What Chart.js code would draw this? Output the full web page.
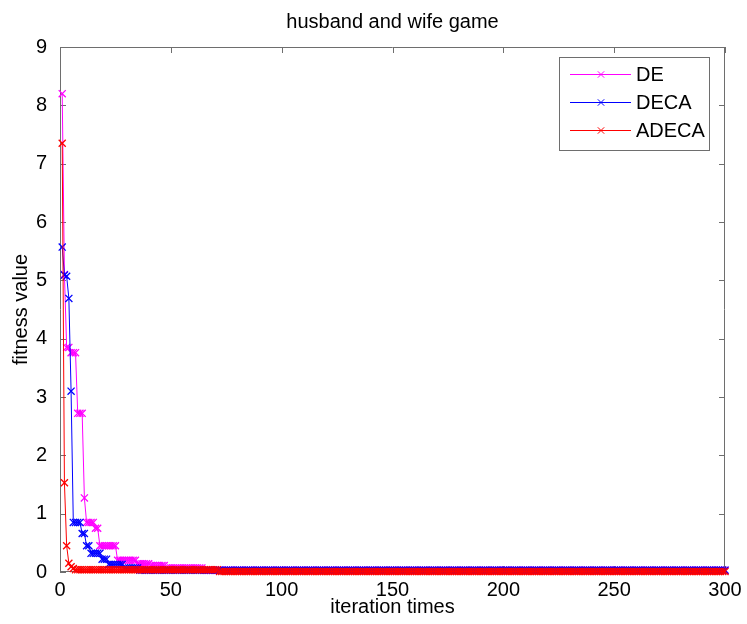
<!DOCTYPE html>
<html>
<head>
<meta charset="utf-8">
<title>husband and wife game</title>
<script src="https://cdn.jsdelivr.net/npm/chart.js@4.4.0/dist/chart.umd.min.js"></script>
<style>
    html, body { margin: 0; padding: 0; background: #fff; }
    #wrap { width: 747px; height: 624px; }
</style>
</head>
<body>
<div id="wrap"><canvas id="fitnessChart" width="747" height="624"></canvas></div>
<script>
// Tick labels for both axes
const xTicks = [0, 50, 100, 150, 200, 250, 300];
const yTicks = [0, 1, 2, 3, 4, 5, 6, 7, 8, 9];

const seriesNames = ['DE', 'DECA', 'ADECA'];
const seriesColors = ['#ff00ff', '#0000ff', '#ff0000'];

// Fitness value per iteration as [value, iterations held]
const deRuns = [
    [8.2, 1], [5.1, 1], [3.85, 2], [3.76, 3], [2.72, 3], [1.27, 1], [0.85, 4],
    [0.75, 2], [0.45, 8], [0.2, 9], [0.14, 6], [0.11, 7], [0.07, 17], [0.03, 236]
];
const decaRuns = [
    [5.57, 1], [5.09, 1], [5.07, 1], [4.69, 1], [3.1, 1], [0.85, 4], [0.66, 2],
    [0.45, 2], [0.32, 5], [0.22, 3], [0.13, 7], [0.07, 7], [0.032, 265]
];
const adecaRuns = [
    [7.35, 1], [1.53, 1], [0.45, 1], [0.15, 1], [0.09, 1], [0.06, 1],
    [0.04, 65], [0.01, 229]
];

const FONT = '"Liberation Sans", Arial, Helvetica, sans-serif';

// turn the runs into one point per iteration (iterations start at 1)
function expandRuns(runs) {
    const pts = [];
    runs.forEach(([value, count]) => {
        for (let i = 0; i < count; i++) {
            pts.push({ x: pts.length + 1, y: value });
        }
    });
    return pts;
}

// Box around the plot with inward ticks on all four sides
const axisBox = {
    id: 'axisBox',
    beforeDatasetsDraw(chart) {
        const { ctx, chartArea: a, scales: { x, y } } = chart;
        const len = 6;
        ctx.save();
        ctx.strokeStyle = '#6e6e6e';
        ctx.lineWidth = 1;
        ctx.beginPath();
        ctx.rect(a.left + 0.5, a.top + 0.5, a.width - 1, a.height - 1);
        xTicks.forEach(v => {
            const px = Math.round(x.getPixelForValue(v)) + 0.5;
            ctx.moveTo(px, a.bottom);
            ctx.lineTo(px, a.bottom - len);
            ctx.moveTo(px, a.top);
            ctx.lineTo(px, a.top + len);
        });
        yTicks.forEach(v => {
            const py = Math.round(y.getPixelForValue(v)) + 0.5;
            ctx.moveTo(a.left, py);
            ctx.lineTo(a.left + len, py);
            ctx.moveTo(a.right, py);
            ctx.lineTo(a.right - len, py);
        });
        ctx.stroke();
        ctx.restore();
    }
};

// Legend box in the upper right corner of the plot
const boxLegend = {
    id: 'boxLegend',
    afterDraw(chart) {
        const { ctx, chartArea: a } = chart;
        const w = 150, h = 93;
        const left = a.right - 16 - w;
        const top = a.top + 10;
        ctx.save();
        ctx.fillStyle = '#fff';
        ctx.fillRect(left, top, w, h);
        ctx.strokeStyle = '#6e6e6e';
        ctx.lineWidth = 1;
        ctx.strokeRect(left + 0.5, top + 0.5, w, h);
        ctx.font = '20px ' + FONT;
        ctx.textBaseline = 'middle';
        chart.data.datasets.forEach((ds, i) => {
            const yy = Math.round(top + 17 + i * 28.2) + 0.5;
            ctx.strokeStyle = ds.borderColor;
            ctx.beginPath();
            ctx.moveTo(left + 11, yy);
            ctx.lineTo(left + 72, yy);
            // the x marker
            const cx = left + 42, r = 3.2;
            ctx.moveTo(cx - r, yy - r);
            ctx.lineTo(cx + r, yy + r);
            ctx.moveTo(cx - r, yy + r);
            ctx.lineTo(cx + r, yy - r);
            ctx.stroke();
            ctx.fillStyle = '#000';
            ctx.fillText(ds.label, left + 77, yy + 1);
        });
        ctx.restore();
    }
};

const allRuns = [deRuns, decaRuns, adecaRuns];

new Chart(document.getElementById('fitnessChart'), {
    type: 'line',
    data: {
        datasets: allRuns.map((runs, i) => ({
            label: seriesNames[i],
            data: expandRuns(runs),
            borderColor: seriesColors[i],
            backgroundColor: seriesColors[i],
            borderWidth: 1,
            pointStyle: 'crossRot',
            pointRadius: 5,
            pointBorderWidth: 1.3,
            pointBorderColor: seriesColors[i],
            tension: 0,
            clip: false,
            order: 3 - i
        }))
    },
    options: {
        responsive: false,
        animation: false,
        events: [],
        layout: { padding: { left: 0, right: 22, top: 0, bottom: 0 } },
        plugins: {
            legend: { display: false },
            tooltip: { enabled: false },
            title: {
                display: true,
                fullSize: false,
                text: 'husband and wife game',
                color: '#000',
                font: { family: FONT, size: 20, weight: 'normal' },
                padding: { top: 10, bottom: 13 }
            }
        },
        scales: {
            x: {
                type: 'linear',
                min: 0,
                max: 300,
                afterBuildTicks: s => { s.ticks = xTicks.map(v => ({ value: v })); },
                afterFit: s => { s.height = 52; },
                grid: { display: false },
                border: { display: false },
                ticks: {
                    color: '#000',
                    padding: -2,
                    maxRotation: 0,
                    autoSkip: false,
                    font: { family: FONT, size: 20 }
                },
                title: {
                    display: true,
                    text: 'iteration times',
                    color: '#000',
                    font: { family: FONT, size: 20 },
                    padding: { top: 0, bottom: 5 }
                }
            },
            y: {
                min: 0,
                max: 9,
                afterBuildTicks: s => { s.ticks = yTicks.map(v => ({ value: v })); },
                afterFit: s => { s.width = 60; },
                grid: { display: false },
                border: { display: false },
                ticks: {
                    color: '#000',
                    padding: 5,
                    font: { family: FONT, size: 20 }
                },
                title: {
                    display: true,
                    text: 'fitness value',
                    color: '#000',
                    font: { family: FONT, size: 20 },
                    padding: { top: 9, bottom: 0 }
                }
            }
        }
    },
    plugins: [axisBox, boxLegend]
});
</script>
</body>
</html>
